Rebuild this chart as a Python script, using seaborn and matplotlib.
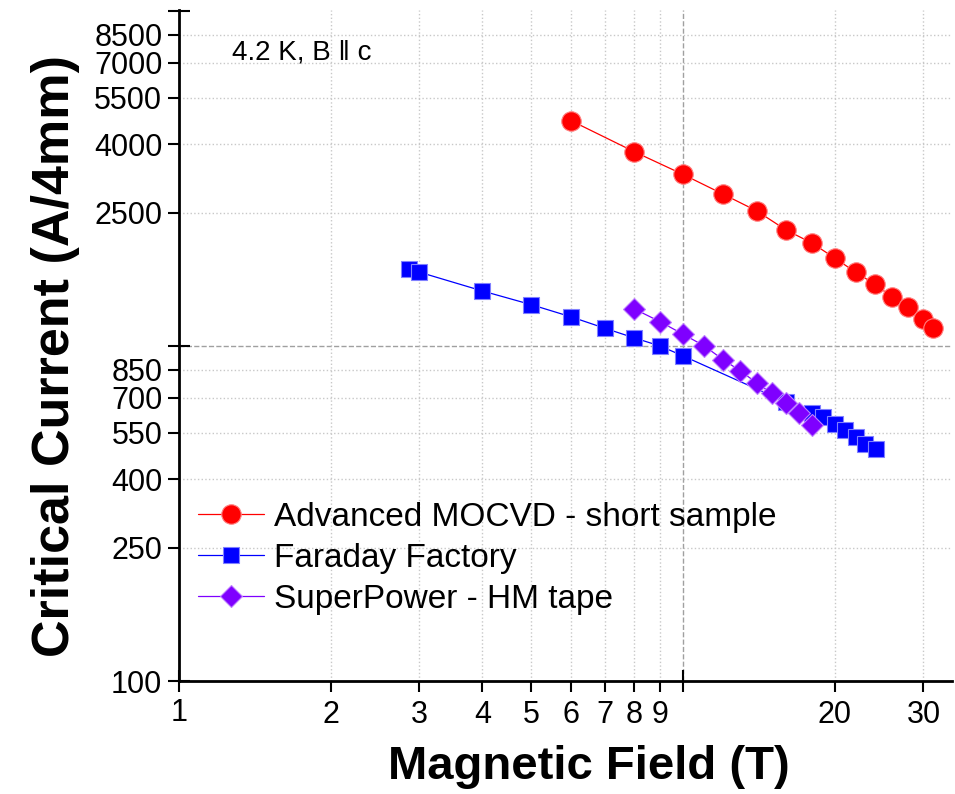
import matplotlib
matplotlib.use('Agg')
import matplotlib.pyplot as plt
import matplotlib.ticker as mticker
import seaborn as sns

# Data (field in T, critical current in A/4mm)
mocvd_field = [6, 8, 10, 12, 14, 16, 18, 20, 22, 24, 26, 28, 30, 31.3]
mocvd_ic = [4700, 3800, 3250, 2840, 2530, 2220, 2030, 1830, 1660, 1530, 1400, 1310, 1200, 1135]

faraday_field = [2.86, 3, 4, 5, 6, 7, 8, 9, 10, 16, 18, 19, 20, 21, 22, 23, 24.1]
faraday_ic = [1694, 1660, 1459, 1328, 1221, 1129, 1057, 1000, 934,
              680, 631, 614, 585, 561, 535, 510, 493]

superpower_field = [8, 9, 10, 11, 12, 13, 14, 15, 16, 17, 18]
superpower_ic = [1290, 1182, 1084, 1002, 911, 842, 776, 722, 675, 630, 581]

labels = ['Advanced MOCVD - short sample', 'Faraday Factory', 'SuperPower - HM tape']

x_minor = [2, 3, 4, 5, 6, 7, 8, 9, 20, 30]
y_minor = [250, 400, 550, 700, 850, 2500, 4000, 5500, 7000, 8500]

sns.set_style('ticks')
plt.rcParams['font.family'] = ['Liberation Sans', 'DejaVu Sans']
plt.rcParams.update({'text.color': 'black', 'axes.labelcolor': 'black',
                     'xtick.color': 'black', 'ytick.color': 'black'})

fig = plt.figure(figsize=(9.55, 7.94), dpi=100)
ax = fig.add_axes([0.1874, 0.1423, 0.8096, 0.8453])

series = [
    (mocvd_field, mocvd_ic, 'o', '#FF0000', '#FF8080', 14),
    (faraday_field, faraday_ic, 's', '#0000FF', '#8080FF', 12),
    (superpower_field, superpower_ic, 'D', '#7F00FF', '#BF80FF', 11.5),
]
for (x, y, m, c, ec, ms), lab in zip(series, labels):
    sns.lineplot(x=x, y=y, ax=ax, color=c, marker=m, markersize=ms,
                 markeredgecolor=ec, markeredgewidth=0.8, linewidth=0.9,
                 label=lab, sort=False)

ax.set_xscale('log')
ax.set_yscale('log')
ax.set_xlim(1, 34.2)
ax.set_ylim(100, 10070)

ax.xaxis.set_major_locator(mticker.FixedLocator([1, 10]))
ax.xaxis.set_major_formatter(mticker.FixedFormatter(['1', '']))
ax.xaxis.set_minor_locator(mticker.FixedLocator(x_minor))
ax.xaxis.set_minor_formatter(mticker.FixedFormatter([str(v) for v in x_minor]))

ax.yaxis.set_major_locator(mticker.FixedLocator([100, 1000, 10000]))
ax.yaxis.set_major_formatter(mticker.FixedFormatter(['100', '', '']))
ax.yaxis.set_minor_locator(mticker.FixedLocator(y_minor))
ax.yaxis.set_minor_formatter(mticker.FixedFormatter([str(v) for v in y_minor]))

ax.tick_params(axis='x', which='major', direction='inout', length=16,
               width=1.5, labelsize=22, pad=4)
ax.tick_params(axis='x', which='minor', direction='out', length=8,
               width=1.5, labelsize=22, pad=6)
ax.tick_params(axis='y', which='major', direction='inout', length=16,
               width=1.5, labelsize=22, pad=4)
ax.tick_params(axis='y', which='minor', direction='out', length=8,
               width=1.5, labelsize=22, pad=4)

ax.grid(False, which='major')
ax.grid(True, which='minor', color='#C8C8C8', linestyle=':', linewidth=1.0)
ax.axvline(10, color='#A0A0A0', linestyle='--', linewidth=1.0, zorder=0.5)
ax.axhline(1000, color='#A0A0A0', linestyle='--', linewidth=1.0, zorder=0.5)

for side in ['top', 'right']:
    ax.spines[side].set_visible(False)
for side in ['left', 'bottom']:
    ax.spines[side].set_linewidth(2)
    ax.spines[side].set_color('black')

ax.set_xlabel('Magnetic Field (T)', fontsize=34, fontweight='bold')
ax.set_ylabel('Critical Current (A/4mm)', fontsize=37.5, fontweight='bold')
ax.xaxis.set_label_coords(0.530, -0.095)
ax.yaxis.set_label_coords(-0.128, 0.484)

ax.text(0.068, 0.937, '4.2 K, B \u2016 c', transform=ax.transAxes,
        fontsize=20, ha='left', va='center')

ax.legend(loc='center left', bbox_to_anchor=(0.024, 0.183), frameon=False,
          fontsize=24, handlelength=2.0, handletextpad=0.3,
          labelspacing=0.3, borderaxespad=0, borderpad=0)

fig.savefig('out.png', dpi=100)
